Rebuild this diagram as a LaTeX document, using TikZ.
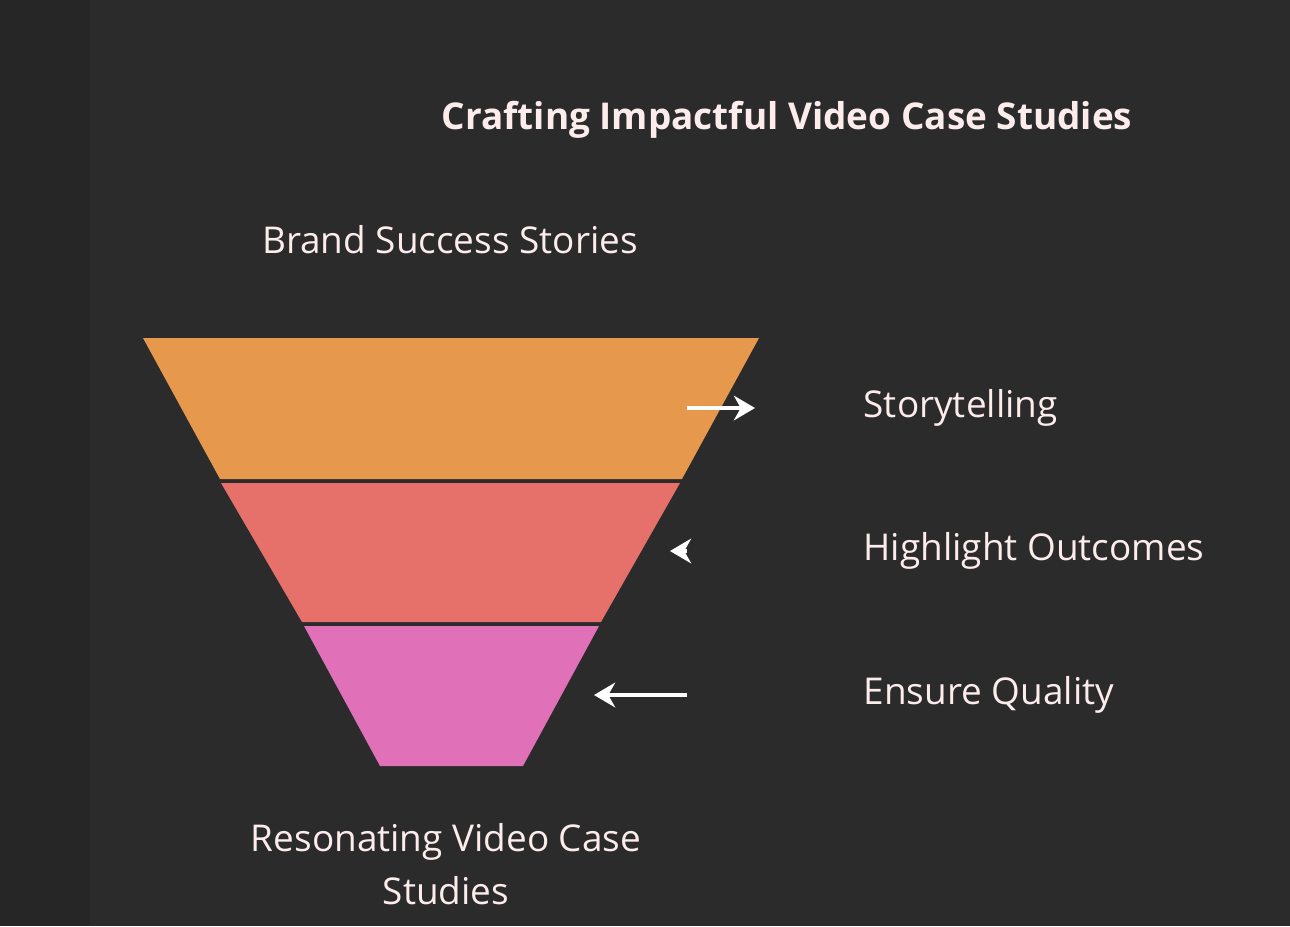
\documentclass[tikz,border=0pt]{standalone}
\usepackage{fontspec}
\setmainfont{Open Sans}
\usetikzlibrary{positioning, arrows.meta}
\definecolor{bgdark}{HTML}{2B2B2B}
\definecolor{bgstrip}{HTML}{262626}
\definecolor{layerA}{HTML}{E6994D}
\definecolor{layerB}{HTML}{E6706A}
\definecolor{layerC}{HTML}{E070B8}
\definecolor{txtlight}{HTML}{FCEDEC}
\begin{document}
\begin{tikzpicture}[x=0.01cm,y=-0.01cm,
    label/.style={text=txtlight, font=\fontsize{10.5}{13}\selectfont, inner sep=0pt},
    lab/.style={label, anchor=west},
    arr/.style={-{Stealth[length=6pt,width=7pt]}, draw=white, line width=1.3pt}]
  \fill[bgdark] (0,0) rectangle (1290,926);
  \fill[bgstrip] (0,0) rectangle (90,926);
  \useasboundingbox (0,0) rectangle (1290,926);

  % funnel layers
  \fill[layerA] (143,338) -- (759,338) -- (682,479) -- (220,479) -- cycle;
  \fill[layerB] (221,483) -- (680,483) -- (601,622) -- (302,622) -- cycle;
  \fill[layerC] (304,626) -- (599,626) -- (523,766) -- (380,766) -- cycle;

  \node[label, font=\fontsize{10.5}{13}\selectfont\bfseries] (title) at (787,120) {Crafting Impactful Video Case Studies};
  \node[label] (top) at (450,240) {Brand Success Stories};
  \node[label, align=center] (bottom) at (446,864) {Resonating Video Case\\[2pt]Studies};

  \node[lab] (story) at (863,408) {Storytelling};
  \node[lab] (high) at (863,551) {Highlight Outcomes};
  \node[lab] (qual) at (863,695) {Ensure Quality};

  \coordinate (s1) at (755,408);
  \coordinate (s2) at (670,551);
  \coordinate (s3) at (594,695);
  \draw[arr] ([xshift=-50]story.west) -- (s1);
  \draw[arr] ([xshift=-50]high.west) -- (s2);
  \draw[arr] ([xshift=-50]qual.west) -- (s3);
\end{tikzpicture}
\end{document}
